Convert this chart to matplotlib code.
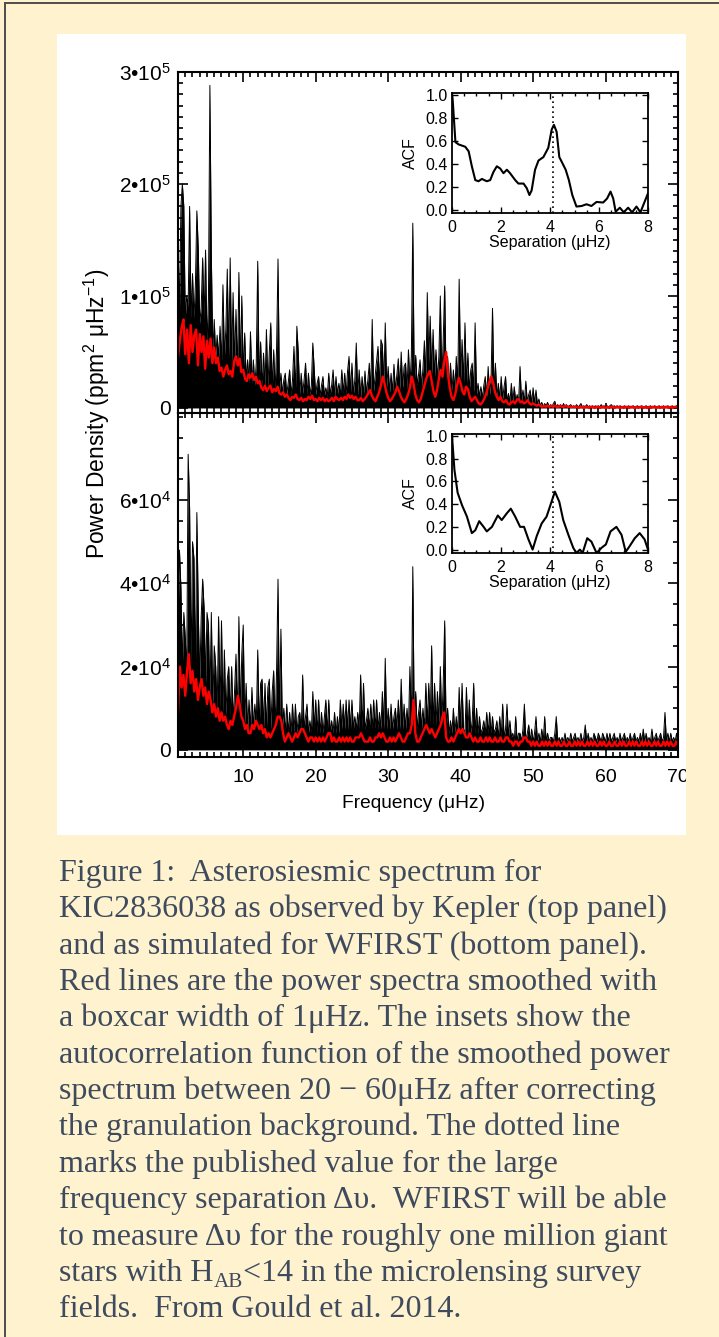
import matplotlib
matplotlib.use('Agg')
import matplotlib.pyplot as plt
from matplotlib.patches import Rectangle
from matplotlib.lines import Line2D
from matplotlib.ticker import MultipleLocator
import numpy as np

plt.rcParams['font.family'] = ['Liberation Sans', 'DejaVu Sans']
plt.rcParams['mathtext.fontset'] = 'custom'
plt.rcParams['mathtext.rm'] = 'Liberation Sans'
plt.rcParams['mathtext.it'] = 'Liberation Sans:italic'
plt.rcParams['mathtext.bf'] = 'Liberation Sans:bold'

# ---- data -------------------------------------------------------------
# raw power spectra, 0.2 uHz grid from 1 to 70 uHz, units of 1e3 ppm^2/uHz
kepler_power = [
    150, 85, 180, 200, 180, 80, 100, 90, 180, 80,      # 1.0
    120, 80, 110, 176, 141, 75, 90, 134, 80, 141,      # 3.0
    55, 97, 288, 136, 50, 79, 45, 65, 45, 73,          # 5.0
    40, 110, 45, 70, 124, 45, 134, 40, 103, 38,        # 7.0
    88, 30, 121, 35, 100, 30, 67, 25, 43, 22,          # 9.0
    68, 22, 43, 20, 40, 131, 22, 59, 18, 49,           # 11.0
    18, 70, 18, 50, 76, 16, 52, 15, 52, 133,           # 13.0
    15, 31, 13, 25, 31, 12, 22, 34, 12, 25,            # 15.0
    55, 13, 73, 49, 12, 31, 13, 25, 40, 12,            # 17.0
    31, 12, 20, 58, 34, 12, 22, 28, 11, 20,            # 19.0
    28, 11, 18, 10, 31, 12, 20, 34, 10, 28,            # 21.0
    12, 22, 11, 34, 13, 31, 12, 33, 46, 13,            # 23.0
    40, 12, 25, 58, 12, 34, 10, 28, 12, 33,            # 25.0
    12, 25, 40, 14, 79, 15, 28, 40, 55, 18,            # 27.0
    61, 56, 20, 76, 18, 37, 14, 31, 14, 39,            # 29.0
    15, 30, 44, 16, 50, 18, 37, 40, 16, 52,            # 31.0
    20, 46, 165, 22, 47, 20, 30, 43, 18, 35,           # 33.0
    60, 25, 103, 40, 82, 30, 70, 28, 52, 25,           # 35.0
    46, 100, 25, 61, 109, 22, 46, 18, 40, 15,          # 37.0
    34, 15, 46, 20, 115, 25, 61, 22, 76, 20,           # 39.0
    49, 15, 34, 40, 14, 76, 12, 22, 10, 19,            # 41.0
    9, 20, 28, 10, 37, 12, 25, 89, 15, 40,             # 43.0
    10, 22, 8, 28, 8, 19, 28, 6, 13, 5,                # 45.0
    22, 5, 19, 6, 12, 5, 37, 6, 16, 5,                 # 47.0
    24, 5, 12, 16, 4, 18, 4, 16, 3, 8,                 # 49.0
    2, 5, 1, 4, 2, 5, 1, 3, 1, 4,                      # 51.0
    6, 1, 3, 1, 3, 1, 4, 1, 3, 1,                      # 53.0
    2, 3, 1, 2, 1, 3, 1, 2, 4, 1,                      # 55.0
    2, 1, 3, 1, 2, 1, 2, 1, 2, 1,                      # 57.0
    2, 1, 3, 1, 2, 1, 2, 1, 2, 3,                      # 59.0
    1, 2, 1, 2, 1, 2, 1, 1, 2, 1,                      # 61.0
    1, 2, 1, 1, 2, 1, 1, 2, 1, 1,                      # 63.0
    2, 1, 1, 2, 1, 1, 2, 1, 1, 2,                      # 65.0
    1, 1, 2, 1, 1, 2, 1, 1, 2, 1,                      # 67.0
    1, 2, 1, 1, 2, 1,                                  # 69.0
]

wfirst_power = [
    30, 48, 39, 20, 33, 27, 18, 71, 58, 20,            # 1.0
    50, 46, 18, 57, 33, 16, 32, 41, 34, 16,            # 3.0
    33, 30, 12, 33, 10, 25, 20, 9, 32, 10,             # 5.0
    31, 9, 24, 8, 17, 20, 8, 20, 7, 14,                # 7.0
    23, 7, 32, 8, 23, 30, 6, 16, 5, 12,                # 9.0
    5, 15, 5, 11, 6, 24, 5, 16, 17, 5,                 # 11.0
    16, 5, 15, 17, 5, 14, 19, 5, 19, 41,               # 13.0
    6, 29, 5, 10, 4, 11, 4, 9, 4, 11,                  # 15.0
    4, 11, 4, 8, 9, 4, 18, 5, 8, 11,                   # 17.0
    4, 7, 4, 14, 5, 12, 4, 12, 4, 9,                   # 19.0
    4, 8, 12, 4, 12, 4, 7, 4, 9, 4,                    # 21.0
    8, 4, 12, 5, 11, 5, 12, 5, 12, 5,                  # 23.0
    12, 5, 8, 5, 9, 5, 18, 5, 16, 5,                   # 25.0
    7, 10, 5, 11, 5, 12, 5, 12, 5, 9,                  # 27.0
    5, 14, 5, 22, 5, 10, 5, 11, 5, 8,                  # 29.0
    10, 5, 12, 5, 17, 5, 11, 5, 10, 5,                 # 31.0
    20, 5, 44, 6, 14, 5, 9, 12, 5, 10,                 # 33.0
    5, 16, 6, 16, 6, 25, 6, 16, 6, 14,                 # 35.0
    6, 20, 6, 16, 31, 5, 10, 4, 7, 4,                  # 37.0
    10, 4, 8, 4, 15, 5, 16, 5, 4, 15,                  # 39.0
    4, 12, 4, 7, 16, 4, 10, 4, 8, 4,                   # 41.0
    5, 7, 4, 9, 4, 9, 4, 8, 4, 5,                      # 43.0
    7, 3, 8, 3, 11, 3, 5, 11, 3, 7,                    # 45.0
    3, 4, 2, 8, 2, 4, 4, 2, 5, 11,                     # 47.0
    2, 4, 6, 2, 5, 2, 4, 8, 2, 4,                      # 49.0
    2, 5, 2, 8, 2, 4, 2, 3, 3, 2,                      # 51.0
    4, 8, 2, 3, 2, 3, 2, 4, 2, 3,                      # 53.0
    2, 4, 2, 3, 4, 2, 3, 2, 4, 2,                      # 55.0
    3, 6, 2, 4, 2, 3, 2, 4, 3, 2,                      # 57.0
    4, 3, 2, 4, 3, 2, 4, 2, 4, 2,                      # 59.0
    3, 4, 2, 3, 2, 4, 2, 3, 4, 2,                      # 61.0
    3, 2, 4, 2, 3, 4, 2, 3, 2, 4,                      # 63.0
    2, 5, 2, 4, 2, 3, 2, 5, 2, 3,                      # 65.0
    4, 2, 3, 4, 2, 3, 9, 2, 4, 2,                      # 67.0
    4, 2, 3, 2, 4, 2,                                  # 69.0
]

# boxcar smoothed spectra, 0.25 uHz grid from 1 to 70 uHz, units of 1e3
kepler_smooth = [
    45, 60, 72, 79, 48, 70, 40, 74, 50, 65,            # 1.0
    70, 38, 66, 50, 64, 35, 60, 45, 62, 40,            # 3.5
    54, 40, 45, 33, 36, 28, 34, 38, 30, 33,            # 6.0
    28, 42, 46, 38, 44, 32, 34, 26, 24, 30,            # 8.5
    27, 31, 25, 28, 22, 24, 18, 16, 20, 15,            # 11.0
    18, 20, 14, 17, 15, 19, 13, 12, 14, 10,            # 13.5
    12, 9, 7, 10, 9, 12, 8, 7, 9, 6,                   # 16.0
    8, 7, 10, 8, 11, 7, 8, 6, 9, 7,                    # 18.5
    9, 6, 8, 6, 7, 9, 6, 10, 8, 7,                     # 21.0
    9, 7, 10, 8, 12, 9, 11, 8, 10, 7,                  # 23.5
    7, 9, 6, 8, 10, 13, 16, 11, 8, 6,                  # 26.0
    10, 14, 20, 28, 22, 14, 9, 6, 8, 11,               # 28.5
    14, 19, 15, 10, 7, 5, 8, 12, 18, 28,               # 31.0
    22, 12, 7, 5, 8, 14, 20, 26, 30, 33,               # 33.5
    24, 15, 10, 16, 26, 34, 28, 42, 50, 30,            # 36.0
    18, 10, 7, 12, 20, 27, 22, 15, 12, 19,             # 38.5
    17, 10, 6, 8, 10, 7, 4, 3, 5, 8,                   # 41.0
    12, 18, 24, 28, 22, 14, 10, 7, 10, 6,              # 43.5
    5, 7, 4, 3, 5, 6, 4, 7, 8, 5,                      # 46.0
    6, 4, 5, 7, 4, 3, 4, 3, 2, 3,                      # 48.5
    2, 1, 2, 1, 2, 1, 2, 1, 2, 1,                      # 51.0
    1, 2, 1, 1, 2, 1, 1, 1, 1, 1,                      # 53.5
    1, 0, 1, 1, 0, 1, 1, 0, 1, 1,                      # 56.0
    0, 1, 1, 0, 1, 1, 0, 1, 0, 1,                      # 58.5
    1, 0, 1, 1, 0, 1, 0, 1, 1, 0,                      # 61.0
    1, 1, 0, 1, 0, 1, 1, 0, 1, 0,                      # 63.5
    1, 0, 1, 1, 0, 1, 0, 1, 0, 1,                      # 66.0
    1, 0, 1, 0, 1, 1, 0,                               # 68.5
]

wfirst_smooth = [
    9, 20, 15, 18, 13, 19, 23, 16, 19, 14,             # 1.0
    17, 12, 15, 17, 13, 15, 11, 14, 12, 9,             # 3.5
    11, 8, 10, 7, 9, 7, 8, 6, 5, 7,                    # 6.0
    6, 8, 10, 13, 11, 8, 7, 5, 6, 4,                   # 8.5
    4, 6, 5, 7, 6, 5, 6, 4, 5, 3,                      # 11.0
    4, 3, 4, 5, 6, 8, 8, 7, 4, 2,                      # 13.5
    3, 4, 3, 2, 3, 4, 3, 4, 5, 5,                      # 16.0
    4, 3, 2, 3, 3, 2, 3, 2, 3, 2,                      # 18.5
    3, 2, 3, 4, 4, 2, 3, 2, 2, 3,                      # 21.0
    2, 3, 2, 3, 2, 3, 2, 2, 3, 3,                      # 23.5
    3, 4, 3, 2, 2, 2, 3, 2, 2, 3,                      # 26.0
    3, 4, 3, 4, 3, 2, 2, 3, 2, 3,                      # 28.5
    2, 3, 4, 3, 2, 2, 3, 4, 4, 6,                      # 31.0
    12, 4, 2, 2, 3, 4, 5, 6, 5, 4,                     # 33.5
    5, 4, 3, 4, 5, 6, 8, 9, 3, 2,                      # 36.0
    2, 3, 2, 3, 4, 5, 4, 5, 4, 3,                      # 38.5
    3, 4, 3, 2, 3, 2, 2, 3, 2, 2,                      # 41.0
    3, 2, 3, 2, 2, 3, 2, 2, 3, 2,                      # 43.5
    2, 3, 3, 2, 2, 1, 2, 2, 1, 2,                      # 46.0
    2, 3, 3, 2, 2, 1, 2, 1, 2, 1,                      # 48.5
    1, 2, 1, 2, 1, 2, 1, 1, 2, 1,                      # 51.0
    2, 1, 1, 2, 1, 1, 2, 1, 1, 2,                      # 53.5
    1, 2, 1, 2, 1, 1, 2, 1, 2, 1,                      # 56.0
    2, 1, 1, 2, 1, 2, 1, 1, 2, 1,                      # 58.5
    1, 2, 1, 1, 2, 1, 2, 1, 1, 2,                      # 61.0
    1, 2, 1, 2, 1, 1, 2, 1, 2, 1,                      # 63.5
    2, 1, 1, 2, 1, 2, 1, 1, 2, 1,                      # 66.0
    2, 1, 2, 1, 1, 2, 1,                               # 68.5
]

# autocorrelation insets
kepler_sep = [0.0, 0.03, 0.14, 0.27, 0.54, 0.68, 0.81, 0.95, 1.08, 1.22,
              1.42, 1.56, 1.69, 1.83, 1.97, 2.1, 2.24, 2.37, 2.58, 2.71,
              2.92, 3.05, 3.16, 3.25, 3.39, 3.53, 3.73, 3.93, 4.07, 4.16,
              4.27, 4.38, 4.5, 4.64, 4.77, 4.91, 5.08, 5.29, 5.49, 5.69,
              5.9, 6.17, 6.33, 6.47, 6.58, 6.68, 6.85, 7.01, 7.19, 7.35,
              7.53, 7.69, 8.0]
kepler_acf = [1.0, 0.95, 0.59, 0.57, 0.55, 0.51, 0.38, 0.26, 0.25, 0.27,
              0.25, 0.26, 0.33, 0.38, 0.36, 0.32, 0.35, 0.32, 0.26, 0.23,
              0.23, 0.19, 0.13, 0.17, 0.35, 0.43, 0.46, 0.54, 0.70, 0.74,
              0.68, 0.46, 0.41, 0.35, 0.26, 0.13, 0.03, 0.035, 0.05, 0.035,
              0.07, 0.065, 0.10, 0.16, 0.10, -0.015, 0.02, -0.02, 0.02, -0.02,
              0.03, -0.02, 0.145]

wfirst_sep = [0.0, 0.1, 0.23, 0.41, 0.61, 0.81, 0.95, 1.11, 1.29, 1.42,
              1.63, 1.87, 2.03, 2.24, 2.4, 2.58, 2.78, 2.94, 3.12, 3.29,
              3.46, 3.66, 3.86, 4.0, 4.2, 4.38, 4.54, 4.75, 4.95, 5.08,
              5.22, 5.33, 5.52, 5.69, 5.9, 6.1, 6.28, 6.47, 6.71, 6.92,
              7.09, 7.25, 7.46, 7.66, 7.86, 8.0]
wfirst_acf = [1.0, 0.7, 0.5, 0.39, 0.29, 0.145, 0.17, 0.25, 0.2, 0.16,
              0.2, 0.3, 0.26, 0.32, 0.36, 0.29, 0.2, 0.2, 0.09, 0.0,
              0.12, 0.23, 0.29, 0.38, 0.51, 0.42, 0.26, 0.13, 0.015, -0.03,
              0.0, -0.03, 0.1, 0.07, -0.03, 0.015, 0.045, 0.16, 0.2, 0.13,
              -0.02, 0.03, 0.1, 0.145, 0.09, 0.0]

delta_nu = 4.11

caption = [
    'Figure 1:  Asterosiesmic spectrum for',
    'KIC2836038 as observed by Kepler (top panel)',
    'and as simulated for WFIRST (bottom panel).',
    'Red lines are the power spectra smoothed with',
    'a boxcar width of 1\u03bcHz. The insets show the',
    'autocorrelation function of the smoothed power',
    'spectrum between 20 \u2212 60\u03bcHz after correcting',
    'the granulation background. The dotted line',
    'marks the published value for the large',
    'frequency separation \u0394\u03c5.  WFIRST will be able',
    'to measure \u0394\u03c5 for the roughly one million giant',
    None,
    'fields.  From Gould et al. 2014.',
]

# ---- figure -----------------------------------------------------------
W, H = 719, 1337
cream = '#fef2cf'
cap_color = '#3e4a5d'


def box(x0, y0, x1, y1):
    # pixel box measured from top-left -> figure fraction rect
    return [x0 / W, 1 - y1 / H, (x1 - x0) / W, (y1 - y0) / H]


fig = plt.figure(figsize=(W / 100, H / 100), dpi=100)
fig.patch.set_facecolor(cream)
fig.add_artist(Rectangle((57 / W, 1 - 835 / H), 629 / W, 801 / H,
                         transform=fig.transFigure, facecolor='white',
                         edgecolor='none', zorder=-5))

f_raw = 1.0 + 0.2 * np.arange(len(kepler_power))
f_smo = 1.0 + 0.25 * np.arange(len(kepler_smooth))
f_raw2 = 1.0 + 0.2 * np.arange(len(wfirst_power))
f_smo2 = 1.0 + 0.25 * np.arange(len(wfirst_smooth))

ax1 = fig.add_axes(box(178, 72, 678, 413))
ax2 = fig.add_axes(box(178, 413, 678, 757))

for ax, fr, pr, fs, ps in [(ax1, f_raw, kepler_power, f_smo, kepler_smooth),
                           (ax2, f_raw2, wfirst_power, f_smo2, wfirst_smooth)]:
    pr = np.array(pr) * 1e3
    ps = np.array(ps) * 1e3
    ax.fill_between(fr, 0, pr, color='black', lw=0)
    ax.plot(fr, pr, color='black', lw=0.7)
    ax.plot(fs, ps, color='red', lw=1.7)
    ax.set_xlim(1, 70)
    ax.xaxis.set_major_locator(MultipleLocator(10))
    ax.xaxis.set_minor_locator(MultipleLocator(1))
    ax.tick_params(which='both', direction='in', top=True, right=True, width=1.2)
    ax.tick_params(which='major', length=7.5)
    ax.tick_params(which='minor', length=3.5)
    ax.tick_params(axis='x', labelsize=14, pad=9)
    ax.tick_params(axis='y', labelsize=15, pad=5)
    for s in ax.spines.values():
        s.set_linewidth(1.5)

ax1.set_ylim(-4500, 3e5)
ax1.set_yticks([0, 1e5, 2e5, 3e5])
ax1.set_yticklabels(['0', '1\u202210$^5$', '2\u202210$^5$', '3\u202210$^5$'])
ax1.yaxis.set_minor_locator(MultipleLocator(1e4))
ax1.tick_params(labelbottom=False)

ax2.set_ylim(-1700, 80900)
ax2.set_yticks([0, 2e4, 4e4, 6e4])
ax2.set_yticklabels(['0', '2\u202210$^4$', '4\u202210$^4$', '6\u202210$^4$'])
ax2.yaxis.set_minor_locator(MultipleLocator(5e3))
ax2.set_xticks([10, 20, 30, 40, 50, 60, 70])

fig.text(414 / W, 1 - 803 / H, 'Frequency (\u03bcHz)', ha='center', va='center',
         fontsize=13.8)
fig.text(97 / W, 1 - 414 / H, 'Power Density (ppm$^2$ \u03bcHz$^{-1}$)',
         rotation=90, ha='center', va='center', fontsize=16.5)

# insets
for (x0, y0, x1, y1), sep, acf, ylo in [((452, 93, 648, 213), kepler_sep, kepler_acf, -0.026),
                                        ((452, 434, 648, 553), wfirst_sep, wfirst_acf, -0.03)]:
    ai = fig.add_axes(box(x0, y0, x1, y1))
    ai.plot(sep, acf, color='black', lw=1.5)
    ai.axvline(delta_nu, color='black', ls=(0, (1, 2)), lw=1.2)
    ai.set_xlim(0, 8)
    ai.set_ylim(ylo, 1.017)
    ai.set_xticks([0, 2, 4, 6, 8])
    ai.xaxis.set_minor_locator(MultipleLocator(0.5))
    ai.set_yticks([0, 0.2, 0.4, 0.6, 0.8, 1.0])
    ai.set_yticklabels(['0.0', '0.2', '0.4', '0.6', '0.8', '1.0'])
    ai.tick_params(which='both', direction='in', top=True, right=True, width=1.0,
                   labelsize=11.5)
    ai.tick_params(which='major', length=4)
    ai.tick_params(which='minor', length=2)
    ai.tick_params(axis='y', pad=3)
    ai.tick_params(axis='x', pad=5)
    for s in ai.spines.values():
        s.set_linewidth(1.3)
    fig.text(410 / W, 1 - (y0 + y1) / 2 / H, 'ACF', rotation=90, ha='center',
             va='center', fontsize=11.5)
    fig.text(550 / W, 1 - (y1 + 30) / H, 'Separation (\u03bcHz)', ha='center',
             va='center', fontsize=11.5)

# cut the "70" label at the white panel edge
fig.add_artist(Rectangle((686 / W, 1 - 800 / H), 33 / W, 40 / H,
                         transform=fig.transFigure, facecolor=cream,
                         edgecolor='none', zorder=10))

# frame lines of the page
fig.add_artist(Line2D([4.5 / W, 4.5 / W], [0, 1 - 2.5 / H], transform=fig.transFigure,
                      color='#4d4d4d', lw=1.4, zorder=11))
fig.add_artist(Line2D([4.5 / W, 1], [1 - 2.5 / H, 1 - 2.5 / H], transform=fig.transFigure,
                      color='#4d4d4d', lw=1.4, zorder=11))

# caption
cap_fs = 23
serif = ['Liberation Serif', 'DejaVu Serif']
base0 = 881
step = 36.35
renderer = fig.canvas.get_renderer()
for i, line in enumerate(caption):
    y = 1 - (base0 + i * step) / H
    if line is not None:
        fig.text(59 / W, y, line, fontsize=cap_fs, family=serif, color=cap_color,
                 va='baseline', ha='left')
    else:
        t1 = fig.text(59 / W, y, 'stars with H', fontsize=cap_fs, family=serif,
                      color=cap_color, va='baseline', ha='left')
        bb = t1.get_window_extent(renderer=renderer)
        t2 = fig.text(bb.x1 / W, y - 6 / H, 'AB', fontsize=cap_fs * 0.66,
                      family=serif, color=cap_color, va='baseline', ha='left')
        bb2 = t2.get_window_extent(renderer=renderer)
        fig.text(bb2.x1 / W, y, '<14 in the microlensing survey', fontsize=cap_fs,
                 family=serif, color=cap_color, va='baseline', ha='left')

fig.savefig('out.png', dpi=100, facecolor=cream)
